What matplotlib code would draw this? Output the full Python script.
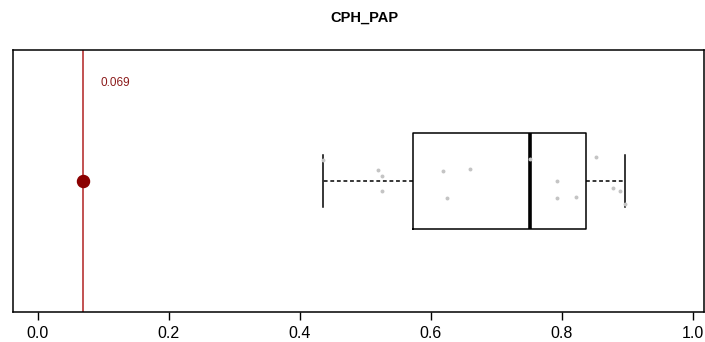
import numpy as np
import matplotlib.pyplot as plt

plt.rcParams['font.family'] = ['Liberation Sans', 'DejaVu Sans']

# --- data ---
title = 'CPH_PAP'
values = [0.436, 0.520, 0.526, 0.526, 0.618, 0.625, 0.660, 0.751,
          0.792, 0.793, 0.821, 0.852, 0.878, 0.889, 0.896]
jitter_y = [0.582, 0.542, 0.519, 0.461, 0.539, 0.434, 0.545, 0.585,
            0.499, 0.434, 0.440, 0.593, 0.472, 0.461, 0.411]
observed = 0.069
observed_label = '0.069'
xticks = [0.0, 0.2, 0.4, 0.6, 0.8, 1.0]

fig = plt.figure(figsize=(7.05, 3.42), dpi=100)
ax = fig.add_axes([13 / 705, 30 / 342, 691 / 705, 262 / 342])

ax.boxplot([values], positions=[0.5], vert=False, widths=0.366, whis=3,
           showfliers=False, patch_artist=False,
           boxprops=dict(color='black', linewidth=1.1),
           medianprops=dict(color='black', linewidth=2.6),
           whiskerprops=dict(color='black', linewidth=1.1, linestyle=(0, (2.5, 1.8))),
           capprops=dict(color='black', linewidth=1.1),
           capwidths=0.2)

ax.scatter(values, jitter_y, s=8, color='#c4c4c4', zorder=3, linewidths=0)

ax.axvline(observed, color='#b22222', linewidth=1.1, zorder=1)
ax.scatter([observed], [0.5], s=75, color='#8b0000', zorder=4)
ax.text(observed + 0.027, 0.875, observed_label, color='#8b1a1a',
        fontsize=8.5, va='center', ha='left')

ax.set_xlim(-0.038, 1.017)
ax.set_ylim(0, 1)
ax.set_yticks([])
ax.set_xticks(xticks)
ax.set_xticklabels([f'{t:.1f}' for t in xticks], fontsize=11.5)
ax.tick_params(axis='x', direction='out', length=6, width=1, pad=4)
for s in ax.spines.values():
    s.set_linewidth(1.1)

fig.text(364 / 705, 1 - 18 / 342, title, ha='center', va='center',
         fontsize=10.5, fontweight='bold')

fig.savefig('out.png', dpi=100)
